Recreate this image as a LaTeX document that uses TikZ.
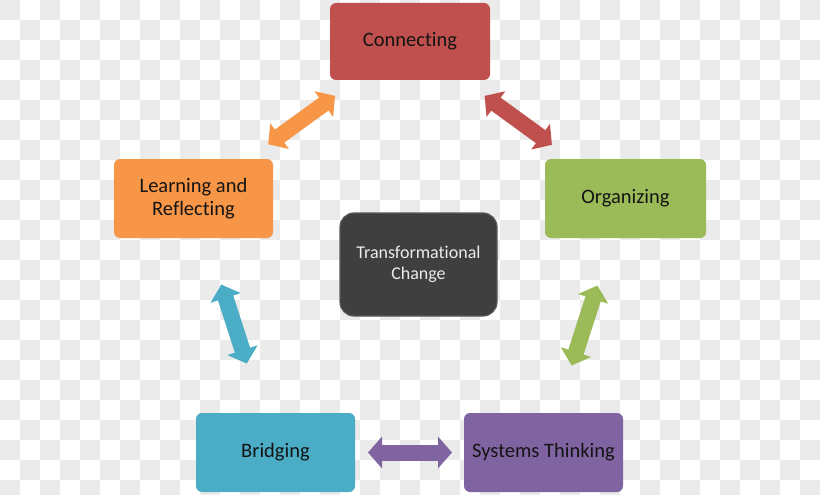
\documentclass[tikz,border=0pt]{standalone}
\usepackage{fontspec}
\setmainfont{Carlito}[Ligatures=NoCommon]
\usetikzlibrary{arrows.meta}
\definecolor{cred}{HTML}{C0504D}
\definecolor{corange}{HTML}{F79646}
\definecolor{cgreen}{HTML}{9BBB59}
\definecolor{cblue}{HTML}{4BACC6}
\definecolor{cpurple}{HTML}{8064A2}
\definecolor{cdark}{HTML}{3F3F3F}
\definecolor{checker}{HTML}{EBEBEB}
\begin{document}
\begin{tikzpicture}[x=1pt,y=-1pt,
  box/.style={rounded corners=6pt, minimum width=160pt, minimum height=79pt,
    inner sep=0pt, outer sep=0pt, font=\fontsize{20.5}{23}\selectfont,
    text=black!92, align=center},
  centerbox/.style={rounded corners=14pt, minimum width=157pt, minimum height=103pt,
    inner sep=0pt, outer sep=0pt, font=\fontsize{18}{20.5}\selectfont,
    text=white!92!black, align=center, fill=cdark, draw=gray!70!black, line width=1.2pt},
  link/.style={line width=16pt,
    {Triangle[length=14pt,width=31pt]}-{Triangle[length=14pt,width=31pt]}}]
\useasboundingbox (0,0) rectangle (820,495);
\fill[white] (0,0) rectangle (820,495);
\foreach \i in {0,...,40}{\foreach \j in {0,...,24}{%
  \pgfmathparse{int(mod(\i+\j,2))}%
  \ifnum\pgfmathresult=0 \fill[checker] (\i*20,\j*20) rectangle ++(20,20);\fi}}

\node[box, fill=cred, minimum height=77pt] (conn) at (410,41.5) {Connecting};
\node[box, fill=corange, minimum width=159pt] (learn) at (193.5,198.5) {Learning and\\Reflecting};
\node[box, fill=cgreen, minimum width=161pt] (org) at (625.5,198.5) {Organizing};
\node[box, fill=cblue, minimum width=159pt] (bridge) at (275.5,452.5) {Bridging};
\node[box, fill=cpurple, minimum width=159pt] (sys) at (543.5,452.5) {Systems Thinking};
\node[centerbox] (center) at (418.5,264.5) {Transformational\\Change};

\draw[link, corange, shorten <=25pt, shorten >=27pt] (learn) -- (conn);
\draw[link, cred, shorten <=27pt, shorten >=24pt] (conn) -- (org);
\draw[link, cblue, shorten <=49pt, shorten >=52pt] (learn) -- (bridge);
\draw[link, cgreen, shorten <=50pt, shorten >=50pt, xshift=2pt] (org) -- (sys);
\draw[link, cpurple, shorten <=13pt, shorten >=12pt] (bridge) -- (sys);
\end{tikzpicture}
\end{document}
